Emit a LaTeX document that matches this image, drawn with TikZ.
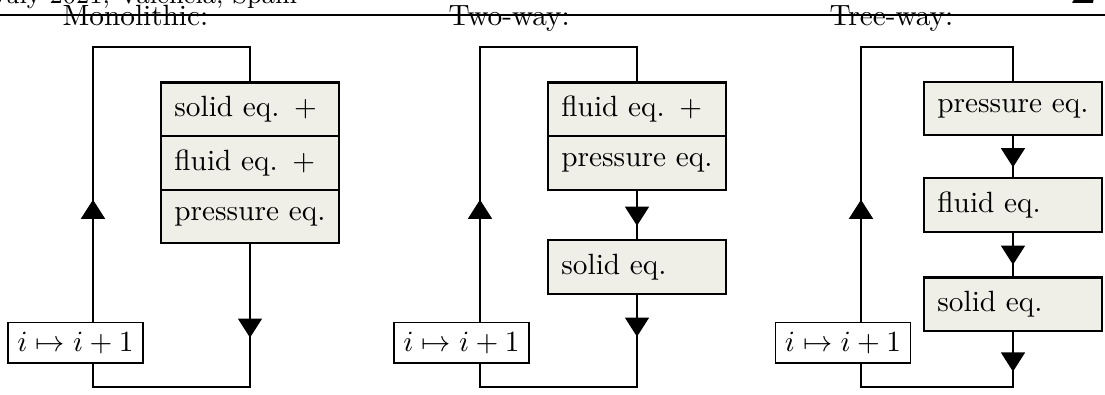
\documentclass[tikz,border=0pt]{standalone}
\usetikzlibrary{arrows.meta,decorations.markings,positioning}
\definecolor{boxfill}{RGB}{239,239,231}
\begin{document}
\begin{tikzpicture}[x=0.3414pt,y=-0.3414pt,
  eqbox/.style={draw,line width=0.75pt,fill=boxfill,text width=51.6pt,align=left,inner xsep=4.7pt,inner ysep=0pt,minimum height=18.3pt,outer sep=0pt},
  incbox/.style={draw,line width=0.5pt,fill=white,inner sep=3.2pt,outer sep=0pt},
  conn/.style={line width=0.4pt},
  tipat/.style={postaction={decorate},decoration={markings,mark=at position #1 with {\arrow{Triangle[width=8.2pt,length=6.5pt]}}}},
  title/.style={anchor=base west,inner sep=0pt}
]
\clip (0,0) rectangle (1105,394);
% header
\node[anchor=base east,inner sep=0pt,font=\fontsize{8.8}{10}\selectfont] (hdr) at (297.7,3) {July 2021, Valencia, Spain};
\node[anchor=base east,inner sep=0pt,font=\fontsize{20}{24}\selectfont] (pg) at (1098,3.3) {2};
\coordinate (hl) at (0,15);
\coordinate (hr) at (1105,15);
\draw[line width=0.4pt] (hl) -- (hr);
% titles
\node[title] (t1) at (62,25) {Monolithic:};
\node[title] (t2) at (448,25) {Two-way:};
\node[title] (t3) at (829,25) {Tree-way:};
% ---------- column 1
\coordinate (tl1) at (93,47);  \coordinate (tr1) at (250,47);
\coordinate (br1) at (250,387); \coordinate (bl1) at (93,387);
\node[eqbox,anchor=north] (s1a) at (250,82.5) {solid eq. $+$};
\node[eqbox,below=0pt of s1a] (s1b) {fluid eq. $+$};
\node[eqbox,below=0pt of s1b] (s1c) {pressure eq.};
\node[incbox] (inc1) at (75.5,342.7) {$i\mapsto i+1$};
\draw[conn,tipat=41.9pt] (tl1 |- inc1.north) -- (tl1) -- (tr1) -- (s1a.north);
\draw[conn,tipat=32.2pt] (s1c.south) -- (br1) -- (bl1) -- (bl1 |- inc1.south);
% ---------- column 2
\coordinate (tl2) at (480,47);  \coordinate (tr2) at (637,47);
\coordinate (br2) at (637,387); \coordinate (bl2) at (480,387);
\node[eqbox,anchor=north] (s2a) at (637,82.5) {fluid eq. $+$};
\node[eqbox,below=0pt of s2a] (s2b) {pressure eq.};
\node[eqbox,anchor=north] (s2c) at (637,240) {solid eq.};
\node[incbox] (inc2) at (461.5,342.7) {$i\mapsto i+1$};
\draw[conn,tipat=41.9pt] (tl2 |- inc2.north) -- (tl2) -- (tr2) -- (s2a.north);
\draw[conn,tipat=12.3pt] (s2b.south) -- (s2c.north);
\draw[conn,tipat=14.7pt] (s2c.south) -- (br2) -- (bl2) -- (bl2 |- inc2.south);
% ---------- column 3
\coordinate (tl3) at (861,47);  \coordinate (tr3) at (1013,47);
\coordinate (br3) at (1013,387); \coordinate (bl3) at (861,387);
\node[eqbox,anchor=north] (s3a) at (1013,81.7) {pressure eq.};
\node[eqbox,anchor=north] (s3b) at (1013,178) {fluid eq.};
\node[eqbox,anchor=north] (s3c) at (1013,277.5) {solid eq.};
\node[incbox] (inc3) at (843,342.7) {$i\mapsto i+1$};
\draw[conn,tipat=41.9pt] (tl3 |- inc3.north) -- (tl3) -- (tr3) -- (s3a.north);
\draw[conn,tipat=10.9pt] (s3a.south) -- (s3b.north);
\draw[conn,tipat=11.3pt] (s3b.south) -- (s3c.north);
\draw[conn,tipat=13.8pt] (s3c.south) -- (br3) -- (bl3) -- (bl3 |- inc3.south);
\end{tikzpicture}
\end{document}
